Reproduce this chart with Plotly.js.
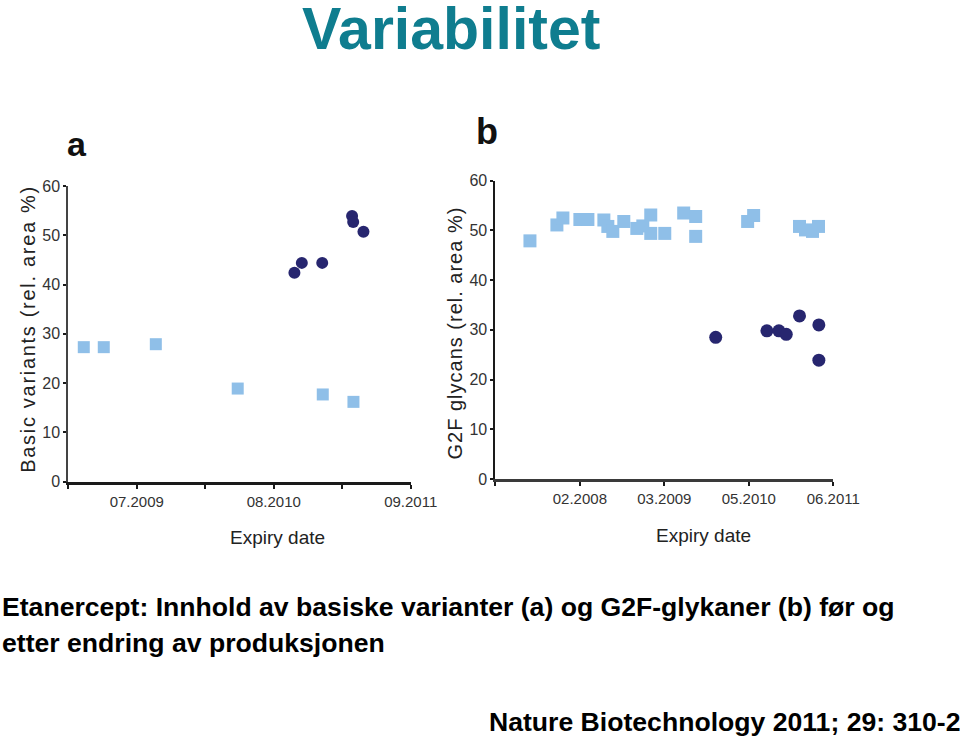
<!DOCTYPE html>
<html>
<head>
<meta charset="utf-8">
<script src="https://cdn.plot.ly/plotly-3.0.1.min.js"></script>
<style>
  html, body { margin: 0; padding: 0; background: #ffffff; }
  #chart { width: 960px; height: 741px; }
</style>
</head>
<body>
<div id="chart"></div>
<script>
// ---- Data (x = position along the expiry-date axis, in tick-label units) ----
// Panel a: basic variants (rel. area %)
const aTickVals  = [-0.5, 0, 0.5, 1, 1.5, 2];
const aTickText  = ["", "07.2009", "", "08.2010", "", "09.2011"];
const aBeforeX   = [-0.387, -0.241, 0.139, 0.737, 1.358, 1.582];
const aBeforeY   = [27.3, 27.3, 27.9, 18.9, 17.7, 16.2];
const aAfterX    = [1.151, 1.205, 1.354, 1.572, 1.580, 1.655];
const aAfterY    = [42.4, 44.4, 44.4, 53.9, 52.7, 50.7];

// Panel b: G2F glycans (rel. area %)
const bTickVals  = [-1, 0, 1, 2, 3];
const bTickText  = ["", "02.2008", "03.2009", "05.2010", "06.2011"];
const bBeforeX   = [-0.591, -0.272, -0.201, 0.000, 0.095, 0.284, 0.331, 0.390, 0.520, 0.674, 0.745,
                    0.839, 0.839, 1.005, 1.229, 1.371, 1.371, 1.986, 2.057, 2.600, 2.671, 2.754, 2.825];
const bBeforeY   = [47.9, 51.1, 52.5, 52.2, 52.2, 52.1, 50.8, 49.8, 51.8, 50.4, 50.9,
                    53.1, 49.4, 49.4, 53.5, 52.8, 48.8, 51.8, 53.0, 50.8, 50.1, 49.8, 50.8];
const bAfterX    = [1.608, 2.214, 2.356, 2.443, 2.600, 2.829, 2.829];
const bAfterY    = [28.5, 29.8, 29.8, 29.1, 32.8, 31.0, 23.9];

const yTickVals  = [0, 10, 20, 30, 40, 50, 60];

// ---- Style ----
const LIGHT = "#8fbfe8";
const DARK  = "#27266f";
const NARROW = "Liberation Sans Narrow, Arial Narrow, Liberation Sans, Arial, sans-serif";
const SANS = "Liberation Sans, Arial, sans-serif";

const traces = [
  { x: aBeforeX, y: aBeforeY, xaxis: "x", yaxis: "y", type: "scatter", mode: "markers",
    marker: { symbol: "square", size: 12, color: LIGHT }, cliponaxis: false, name: "a før", showlegend: false },
  { x: aAfterX, y: aAfterY, xaxis: "x", yaxis: "y", type: "scatter", mode: "markers",
    marker: { symbol: "circle", size: 12, color: DARK }, cliponaxis: false, name: "a etter", showlegend: false },
  { x: bBeforeX, y: bBeforeY, xaxis: "x2", yaxis: "y2", type: "scatter", mode: "markers",
    marker: { symbol: "square", size: 13, color: LIGHT }, cliponaxis: false, name: "b før", showlegend: false },
  { x: bAfterX, y: bAfterY, xaxis: "x2", yaxis: "y2", type: "scatter", mode: "markers",
    marker: { symbol: "circle", size: 13, color: DARK }, cliponaxis: false, name: "b etter", showlegend: false }
];

function xAxis(domain, range, vals, text, anchor, lineColor) {
  return {
    domain: domain, range: range, anchor: anchor,
    showline: true, linecolor: lineColor, linewidth: 3,
    ticks: "outside", ticklen: 4, tickwidth: 2, tickcolor: "#1a1a1a",
    tickvals: vals, ticktext: text,
    tickfont: { family: NARROW, size: 15, color: "#333333" },
    showgrid: false, zeroline: false, fixedrange: true
  };
}
function yAxis(domain, anchor, lineColor) {
  return {
    domain: domain, range: [0, 60], anchor: anchor,
    showline: true, linecolor: lineColor, linewidth: 2,
    ticks: "outside", ticklen: 3, tickwidth: 2, tickcolor: "#1a1a1a",
    tickvals: yTickVals,
    tickfont: { family: NARROW, size: 16, color: "#333333" },
    showgrid: false, zeroline: false, fixedrange: true
  };
}

function px(x) { return x / 960; }
function py(y) { return (741 - y) / 741; }

const annotations = [
  { text: "<b>Variabilitet</b>", x: px(451), y: py(29), xref: "paper", yref: "paper",
    xanchor: "center", yanchor: "middle", showarrow: false,
    font: { family: SANS, size: 59, color: "#0f7d8f" } },
  { text: "<b>a</b>", x: px(77), y: py(144), xref: "paper", yref: "paper",
    xanchor: "center", yanchor: "middle", showarrow: false,
    font: { family: NARROW, size: 34, color: "#111111" } },
  { text: "<b>b</b>", x: px(487), y: py(131), xref: "paper", yref: "paper",
    xanchor: "center", yanchor: "middle", showarrow: false,
    font: { family: NARROW, size: 36, color: "#111111" } },
  { text: "Basic variants (rel. area %)", x: px(28), y: py(329), xref: "paper", yref: "paper",
    xanchor: "center", yanchor: "middle", textangle: -90, showarrow: false,
    font: { family: SANS, size: 20, color: "#222222" } },
  { text: "G2F glycans (rel. area %)", x: px(455), y: py(333), xref: "paper", yref: "paper",
    xanchor: "center", yanchor: "middle", textangle: -90, showarrow: false,
    font: { family: SANS, size: 20, color: "#222222" } },
  { text: "Expiry date", x: px(277), y: py(537), xref: "paper", yref: "paper",
    xanchor: "center", yanchor: "middle", showarrow: false,
    font: { family: NARROW, size: 19, color: "#222222" } },
  { text: "Expiry date", x: px(703), y: py(535), xref: "paper", yref: "paper",
    xanchor: "center", yanchor: "middle", showarrow: false,
    font: { family: NARROW, size: 19, color: "#222222" } },
  { text: "<b>Etanercept: Innhold av basiske varianter (a) og G2F-glykaner (b) før og</b>",
    x: 0, y: py(607), xref: "paper", yref: "paper",
    xanchor: "left", yanchor: "middle", showarrow: false,
    font: { family: SANS, size: 26.6, color: "#000000" } },
  { text: "<b>etter endring av produksjonen</b>",
    x: 0, y: py(643), xref: "paper", yref: "paper",
    xanchor: "left", yanchor: "middle", showarrow: false,
    font: { family: SANS, size: 26.6, color: "#000000" } },
  { text: "<b>Nature Biotechnology 2011; 29: 310-2</b>",
    x: px(487), y: py(722), xref: "paper", yref: "paper",
    xanchor: "left", yanchor: "middle", showarrow: false,
    font: { family: SANS, size: 26.6, color: "#000000" } }
];

const layout = {
  width: 960, height: 741,
  margin: { l: 0, r: 0, t: 0, b: 0 },
  paper_bgcolor: "#ffffff", plot_bgcolor: "rgba(0,0,0,0)",
  showlegend: false,
  xaxis:  xAxis([px(68.3), px(410.7)], [-0.5, 2.0], aTickVals, aTickText, "y", "#1a1a1a"),
  yaxis:  yAxis([py(481.7), py(186)], "x", "#444444"),
  xaxis2: xAxis([px(495.4), px(833.3)], [-1, 3], bTickVals, bTickText, "y2", "#3a3a3a"),
  yaxis2: yAxis([py(479), py(180.7)], "x2", "#1a1a1a"),
  annotations: annotations
};

Plotly.newPlot("chart", traces, layout, { staticPlot: true, displayModeBar: false }).then(function () {
  document.querySelectorAll(".annotation-text").forEach(function (t) {
    const s = t.textContent;
    if (s.indexOf("Basic variants") === 0) t.style.letterSpacing = "1.7px";
    if (s.indexOf("G2F glycans") === 0) t.style.letterSpacing = "1px";
  });
});
</script>
</body>
</html>
